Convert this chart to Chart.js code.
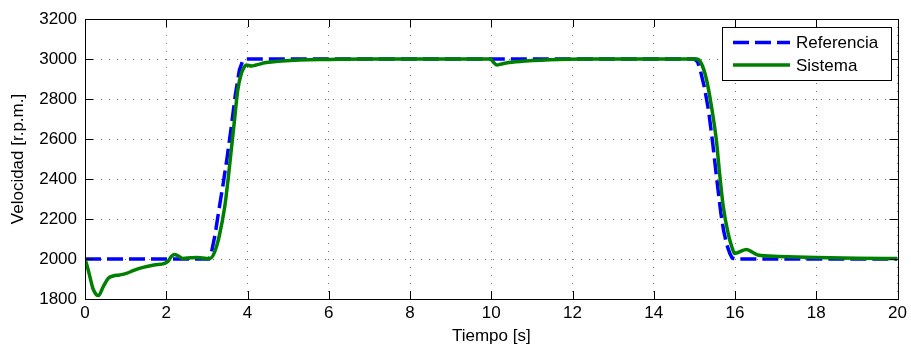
<!DOCTYPE html>
<html>
<head>
<meta charset="utf-8">
<script src="https://cdn.jsdelivr.net/npm/chart.js@4"></script>
<style>
  html, body { margin: 0; padding: 0; background: #fff; }
  #wrap { width: 911px; height: 347px; position: relative; }
</style>
</head>
<body>
<div id="wrap"><canvas id="myChart"></canvas></div>
<script>
// Referencia (dashed blue)
const refTime = [0, 3.05, 3.1, 3.2, 3.3, 3.4, 3.5, 3.6, 3.7, 3.8, 3.88, 3.95,
  15.0, 15.08, 15.15, 15.25, 15.35, 15.45, 15.55, 15.65, 15.72, 15.8, 15.87, 15.93, 16.0, 20];
const refSpeed = [2000, 2000, 2020, 2120, 2250, 2375, 2510, 2660, 2820, 2945, 2990, 3000,
  3000, 2985, 2940, 2855, 2740, 2580, 2400, 2230, 2140, 2070, 2028, 2005, 2000, 2000];

// Sistema (solid green)
const sysTime = [0, 0.06, 0.12, 0.2, 0.33, 0.45, 0.57, 0.69, 0.85, 1.02, 1.2, 1.43, 1.7, 1.96,
  2.05, 2.12, 2.2, 2.3, 2.41, 2.6, 2.74, 2.9, 3.03, 3.1, 3.2, 3.31, 3.44, 3.52, 3.6, 3.68,
  3.76, 3.85, 3.92, 3.97, 4.1, 4.21, 4.46, 5.28, 6, 7, 9.98, 10.05, 10.14, 10.25, 10.43,
  10.84, 11.66, 12.5, 15.05, 15.17, 15.3, 15.42, 15.54, 15.62, 15.71, 15.83, 15.93, 15.99,
  16.1, 16.28, 16.42, 16.56, 17.06, 18, 19, 20];
const sysSpeed = [2000, 1960, 1912, 1850, 1817, 1862, 1903, 1915, 1920, 1928, 1943, 1958, 1970, 1978,
  1990, 2012, 2023, 2015, 2003, 2006, 2008, 2005, 2003, 2005, 2040, 2120, 2262, 2395, 2545, 2695,
  2845, 2928, 2960, 2970, 2965, 2970, 2982, 2995, 2998, 3000, 3000, 2985, 2970, 2975, 2982,
  2990, 2998, 3000, 3000, 2978, 2895, 2762, 2595, 2428, 2262, 2128, 2055, 2028,
  2035, 2048, 2035, 2020, 2013, 2008, 2004, 2002];

const xTicks = [0, 2, 4, 6, 8, 10, 12, 14, 16, 18, 20];
const yTicks = [1800, 2000, 2200, 2400, 2600, 2800, 3000, 3200];

const legendNames = ['Referencia', 'Sistema'];
const FONT = 'Liberation Sans, Arial, sans-serif';

const toPoints = (xs, ys) => xs.map((x, i) => ({ x: x, y: ys[i] }));

// frame, inside ticks and boxed legend, matlab style
const matlabAxes = {
  id: 'matlabAxes',
  afterDatasetsDraw(chart) {
    const { ctx, chartArea: a, scales } = chart;
    const L = 8;
    ctx.save();
    ctx.strokeStyle = '#000';
    ctx.lineWidth = 1;
    ctx.beginPath();
    xTicks.forEach(v => {
      const px = Math.round(scales.x.getPixelForValue(v)) + 0.5;
      ctx.moveTo(px, a.bottom); ctx.lineTo(px, a.bottom - L);
      ctx.moveTo(px, a.top); ctx.lineTo(px, a.top + L);
    });
    yTicks.forEach(v => {
      const py = Math.round(scales.y.getPixelForValue(v)) + 0.5;
      ctx.moveTo(a.left, py); ctx.lineTo(a.left + L, py);
      ctx.moveTo(a.right, py); ctx.lineTo(a.right - L, py);
    });
    ctx.stroke();
    ctx.strokeRect(Math.round(a.left) + 0.5, Math.round(a.top) + 0.5,
      Math.round(a.right - a.left), Math.round(a.bottom - a.top));

    // legend
    const bx = 722.5, by = 27.5, bw = 169, bh = 53;
    ctx.fillStyle = '#fff';
    ctx.fillRect(bx, by, bw, bh);
    ctx.strokeRect(bx, by, bw, bh);
    const rows = [42.5, 65];
    chart.data.datasets.forEach((ds, i) => {
      ctx.beginPath();
      ctx.strokeStyle = ds.borderColor;
      ctx.lineWidth = ds.borderWidth;
      ctx.setLineDash(ds.borderDash || []);
      ctx.moveTo(733, rows[i]);
      ctx.lineTo(790, rows[i]);
      ctx.stroke();
      ctx.setLineDash([]);
      ctx.fillStyle = '#000';
      ctx.font = '17px ' + FONT;
      ctx.textBaseline = 'middle';
      ctx.textAlign = 'left';
      ctx.fillText(legendNames[i], 796, rows[i] + 1);
    });
    ctx.restore();
  }
};

const ctx = document.getElementById('myChart').getContext('2d');
const myChart = new Chart(ctx, {
  type: 'line',
  data: {
    datasets: [{
      label: legendNames[0],
      data: toPoints(refTime, refSpeed),
      borderColor: '#0000ff',
      borderWidth: 3.5,
      borderDash: [16, 6],
      pointRadius: 0,
      tension: 0,
      order: 2
    },
    {
      label: legendNames[1],
      data: toPoints(sysTime, sysSpeed),
      borderColor: '#008000',
      borderWidth: 3.5,
      pointRadius: 0,
      cubicInterpolationMode: 'monotone',
      order: 1
    }]
  },
  options: {
    responsive: true,
    maintainAspectRatio: false,
    devicePixelRatio: 1,
    animation: false,
    layout: { padding: { top: 19, right: 11, left: 0, bottom: 0 } },
    plugins: {
      legend: { display: false },
      tooltip: { enabled: false }
    },
    scales: {
      x: {
        type: 'linear',
        min: 0,
        max: 20,
        afterFit: s => { s.height = 48; },
        afterBuildTicks: s => { s.ticks = xTicks.map(v => ({ value: v })); },
        ticks: { color: '#000', font: { family: FONT, size: 17 }, padding: 4, maxRotation: 0,
          callback: v => String(v) },
        grid: { color: 'rgba(0,0,0,0.55)', drawTicks: false },
        border: { display: false, dash: [1, 7] },
        title: { display: true, text: 'Tiempo [s]', color: '#000', font: { family: FONT, size: 17 }, padding: { top: 0, bottom: 0 } }
      },
      y: {
        min: 1800,
        max: 3200,
        afterFit: s => { s.width = 85; },
        afterBuildTicks: s => { s.ticks = yTicks.map(v => ({ value: v })); },
        ticks: { color: '#000', font: { family: FONT, size: 17 }, padding: 8,
          callback: v => String(v) },
        grid: { color: 'rgba(0,0,0,0.55)', drawTicks: false },
        border: { display: false, dash: [1, 7] },
        title: { display: true, text: 'Velocidad [r.p.m.]', color: '#000', font: { family: FONT, size: 17 }, padding: { top: 8, bottom: 0 } }
      }
    }
  },
  plugins: [matlabAxes]
});
</script>
</body>
</html>
